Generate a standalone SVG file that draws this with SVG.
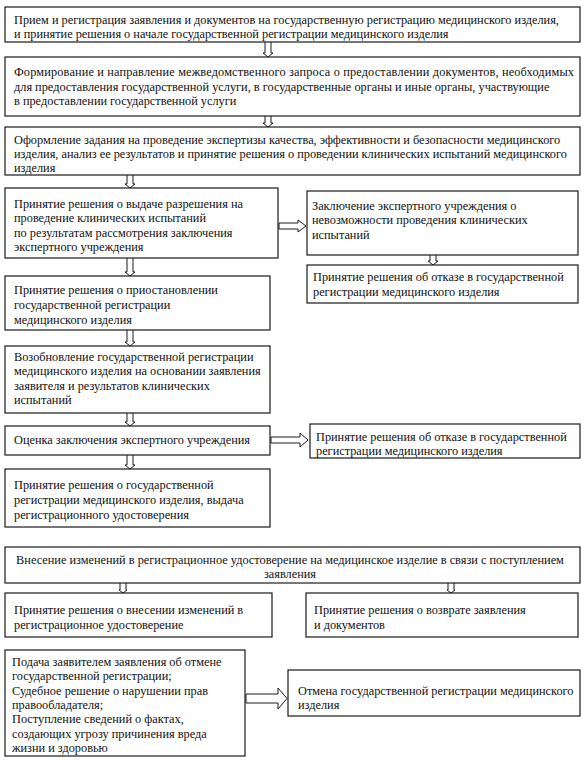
<svg xmlns="http://www.w3.org/2000/svg" width="587" height="760" viewBox="0 0 587 760">
<style>
.box{fill:#fff;stroke:#1a1a1a;stroke-width:1.2}
.t{font-family:"Liberation Serif","Times New Roman",serif;font-size:12.3px;fill:#111}
.c{text-anchor:middle}
.ar{fill:#fff;stroke:#1a1a1a;stroke-width:1}
</style>
<rect width="587" height="760" fill="#fff"/>
<g id="connectors">
<path class="ar" d="M265,42 V53 H263 L268,57 L273,53 H271 V42"/>
<path class="ar" d="M265,116 V123 H263 L268,127 L273,123 H271 V116"/>
<path class="ar" d="M127,175 V184 H125 L130,188 L135,184 H133 V175"/>
<path class="ar" d="M127,258 V272 H125 L130,276 L135,272 H133 V258"/>
<path class="ar" d="M430,255 V261 H428 L433,265 L438,261 H436 V255"/>
<path class="ar" d="M127,330 V342 H125 L130,346 L135,342 H133 V330"/>
<path class="ar" d="M127,413 V422 H125 L130,426 L135,422 H133 V413"/>
<path class="ar" d="M127,455 V465 H125 L130,469 L135,465 H133 V455"/>
<path class="ar" d="M120,583 V590 H119 L123,593 L127,590 H126 V583"/>
<path class="ar" d="M448,583 V590 H447 L451,593 L455,590 H454 V583"/>
<path class="ar" d="M279,223 H298 V220 L306,226 L298,232 V229 H279 Z"/>
<path class="ar" d="M271,437 H300 V433 L308,440 L300,447 V443 H271 Z"/>
<path class="ar" d="M246,694 H278 V688 L287,698.5 L278,709 V703 H246 Z"/>
</g>
<g id="n1"><rect class="box" x="5" y="7" width="575" height="35"/>
<text class="t" x="14" y="24">Прием и регистрация заявления и документов на государственную регистрацию медицинского изделия,</text>
<text class="t" x="14" y="38">и принятие решения  о начале государственной регистрации медицинского изделия</text></g>
<g id="n2"><rect class="box" x="5" y="57" width="575" height="59"/>
<text class="t" x="14" y="76" textLength="560" lengthAdjust="spacing">Формирование и направление межведомственного запроса о предоставлении документов, необходимых</text>
<text class="t" x="14" y="91">для предоставления государственной услуги, в государственные органы и иные органы, участвующие</text>
<text class="t" x="14" y="105">в предоставлении государственной услуги</text></g>
<g id="n3"><rect class="box" x="5" y="127" width="575" height="48"/>
<text class="t" x="14" y="144">Оформление задания на проведение экспертизы качества, эффективности и безопасности медицинского</text>
<text class="t" x="14" y="158">изделия, анализ ее результатов и принятие решения о проведении клинических испытаний медицинского</text>
<text class="t" x="14" y="172">изделия</text></g>
<g id="n4"><rect class="box" x="5" y="188" width="273" height="70"/>
<text class="t" x="14" y="208">Принятие решения о выдаче разрешения на</text>
<text class="t" x="14" y="222">проведение клинических испытаний</text>
<text class="t" x="14" y="237">по результатам рассмотрения заключения</text>
<text class="t" x="14" y="251">экспертного учреждения</text></g>
<g id="n5"><rect class="box" x="307" y="191" width="271" height="64"/>
<text class="t" x="312" y="210">Заключение экспертного учреждения о</text>
<text class="t" x="312" y="224">невозможности проведения клинических</text>
<text class="t" x="312" y="239">испытаний</text></g>
<g id="n6"><rect class="box" x="307" y="265" width="271" height="38"/>
<text class="t" x="313" y="281">Принятие решения об отказе в государственной</text>
<text class="t" x="313" y="296">регистрации медицинского изделия</text></g>
<g id="n7"><rect class="box" x="5" y="276" width="265" height="54"/>
<text class="t" x="14" y="294">Принятие решения о приостановлении</text>
<text class="t" x="14" y="309">государственной регистрации</text>
<text class="t" x="14" y="324">медицинского изделия</text></g>
<g id="n8"><rect class="box" x="5" y="346" width="265" height="67"/>
<text class="t" x="14" y="361">Возобновление государственной регистрации</text>
<text class="t" x="14" y="375">медицинского изделия на основании заявления</text>
<text class="t" x="14" y="390">заявителя  и результатов клинических</text>
<text class="t" x="14" y="404">испытаний</text></g>
<g id="n9"><rect class="box" x="5" y="426" width="265" height="29"/>
<text class="t" x="14" y="444">Оценка заключения экспертного учреждения</text></g>
<g id="n10"><rect class="box" x="310" y="424" width="270" height="34"/>
<text class="t" x="316" y="441">Принятие решения об отказе в государственной</text>
<text class="t" x="316" y="455">регистрации медицинского изделия</text></g>
<g id="n11"><rect class="box" x="5" y="469" width="265" height="58"/>
<text class="t" x="14" y="489">Принятие решения о государственной</text>
<text class="t" x="14" y="504">регистрации медицинского изделия, выдача</text>
<text class="t" x="14" y="519">регистрационного удостоверения</text></g>
<g id="n12"><rect class="box" x="5" y="547" width="575" height="36"/>
<text class="t c" x="290" y="564">Внесение изменений в регистрационное удостоверение на медицинское изделие в связи с поступлением</text>
<text class="t c" x="290" y="578">заявления</text></g>
<g id="n13"><rect class="box" x="5" y="593" width="267" height="44"/>
<text class="t" x="14" y="614">Принятие решения о внесении изменений в</text>
<text class="t" x="14" y="629">регистрационное удостоверение</text></g>
<g id="n14"><rect class="box" x="306" y="593" width="272" height="44"/>
<text class="t" x="314" y="614">Принятие решения о возврате заявления</text>
<text class="t" x="314" y="629">и документов</text></g>
<g id="n15"><rect class="box" x="5" y="650" width="240" height="106"/>
<text class="t" x="12" y="666">Подача заявителем заявления об отмене</text>
<text class="t" x="12" y="680">государственной регистрации;</text>
<text class="t" x="12" y="695">Судебное решение о нарушении прав</text>
<text class="t" x="12" y="709">правообладателя;</text>
<text class="t" x="12" y="723">Поступление сведений о фактах,</text>
<text class="t" x="12" y="738">создающих угрозу причинения вреда</text>
<text class="t" x="12" y="752">жизни и здоровью</text></g>
<g id="n16"><rect class="box" x="288" y="670" width="292" height="46"/>
<text class="t" x="298" y="695">Отмена государственной регистрации медицинского</text>
<text class="t" x="298" y="709">изделия</text></g>
</svg>
